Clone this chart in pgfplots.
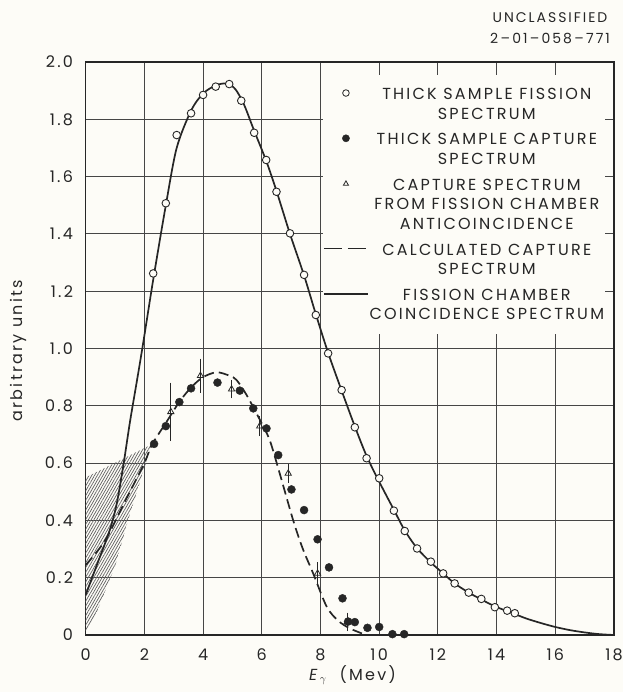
\documentclass[border=0pt]{standalone}
\usepackage{fontspec}
\setmainfont{Poppins}[LetterSpace=14]
\usepackage{pgfplots}
\pgfplotsset{compat=1.18}
\usetikzlibrary{patterns.meta,backgrounds}
\definecolor{ink}{RGB}{38,38,38}
\definecolor{paper}{RGB}{253,252,247}
\definecolor{gridc}{RGB}{70,70,70}
\pgfplotsset{
  markimg/.style={legend image code/.code={\draw[mark repeat=2,mark phase=2,##1] plot coordinates {(0bp,#1) (24bp,#1) (48bp,#1)};}},
  lineimg/.style={legend image code/.code={\draw[##1] (2bp,#1) -- (46bp,#1);}},
}
\newcommand{\lent}[1]{\parbox[b]{236bp}{\centering #1}}
\begin{document}
\begin{tikzpicture}
\begin{axis}[
  name=ax,
  scale only axis, width=528.3bp, height=573bp,
  xmin=0, xmax=18, ymin=0, ymax=2,
  xtick={0,2,4,6,8,10,12,14,16,18},
  xticklabels={0,2,4,6,8,10,12,14,16,18},
  ytick={0,0.2,0.4,0.6,0.8,1.0,1.2,1.4,1.6,1.8,2.0},
  yticklabels={0,0.2,0.4,0.6,0.8,1.0,1.2,1.4,1.6,1.8,2.0},
  grid=major,
  major grid style={gridc, line width=1bp},
  axis line style={ink, line width=1.2bp},
  major tick length=0pt,
  tick label style={font=\fontsize{16bp}{19bp}\selectfont, text=ink},
  xticklabel style={anchor=base, yshift=-26bp},
  yticklabel style={anchor=east, inner sep=0pt, xshift=-12.5bp},
  xlabel={\textit{E}$_{\gamma}$\ \ (Mev)},
  xlabel style={at={(axis description cs:0.505,-0.07)}, anchor=center, font=\fontsize{16bp}{19bp}\selectfont, text=ink},
  ylabel={arbitrary units},
  ylabel style={at={(axis description cs:-0.127,0.496)}, anchor=center, font=\fontsize{16bp}{19bp}\selectfont, text=ink},
  legend style={at={(rel axis cs:0.449,0.977)}, anchor=north west, draw=none, fill=paper,
    inner xsep=0pt, inner ysep=13bp, row sep=13bp, column sep=0bp,
    font=\fontsize{16bp}{19.5bp}\selectfont, text=ink, nodes={inner sep=0pt}},
  legend cell align=left,
]
% hatched uncertainty region
\addplot[draw=none, forget plot, pattern={Lines[angle=60,distance=2.4bp,line width=0.7bp]}, pattern color=gray!75!black]
  coordinates {(0,0.01) (0.3,0.06) (1.0,0.24) (1.5,0.42) (2.25,0.665) (0,0.55)} -- cycle;
% calculated capture spectrum (dashed)
\addplot[forget plot, ink, line width=1.7bp, dash pattern=on 10bp off 5bp, smooth, tension=0.5]
  coordinates {(0,0.244) (0.66,0.33) (1.39,0.477) (2.0,0.60) (2.25,0.663) (2.73,0.74) (3.2,0.815)
  (3.6,0.865) (4.0,0.90) (4.46,0.917) (4.9,0.905) (5.14,0.89) (5.48,0.838) (5.94,0.75) (6.27,0.68)
  (6.61,0.564) (7.07,0.40) (7.4,0.30) (7.75,0.215) (8.21,0.099) (8.6,0.05) (9.0,0.023) (9.5,0.002)};
% fission chamber coincidence spectrum (solid)
\addplot[forget plot, ink, line width=1.7bp, smooth, tension=0.5]
  coordinates {(0,0.14) (0.4,0.25) (0.8,0.36) (1.05,0.455) (1.28,0.59) (1.51,0.745) (1.75,0.89)
  (1.96,1.02) (2.3,1.24) (2.73,1.50) (3.1,1.70) (3.59,1.83) (4.0,1.89) (4.43,1.918) (4.8,1.925)
  (5.1,1.905) (5.4,1.85) (5.74,1.76) (6.15,1.655) (6.5,1.55) (6.96,1.40) (7.44,1.255) (7.84,1.12)
  (8.26,0.985) (8.72,0.853) (9.17,0.728) (9.57,0.625) (10.0,0.535) (10.5,0.437) (10.87,0.365)
  (11.29,0.303) (11.76,0.253) (12.18,0.215) (12.57,0.18) (13.05,0.148) (13.48,0.124) (13.94,0.10)
  (14.5,0.078) (15,0.058) (15.5,0.042) (16,0.028) (16.5,0.017) (17,0.009) (17.5,0.003) (18,0.0)};
% thick sample capture spectrum (filled circles)
\addplot[forget plot, only marks, mark=*, mark size=4bp, mark options={fill=ink, draw=ink}]
  coordinates {(2.33,0.667) (2.73,0.729) (3.19,0.813) (3.59,0.861) (4.49,0.881) (5.25,0.853)
  (5.71,0.791) (6.16,0.721) (6.56,0.628) (7.01,0.508) (7.44,0.436) (7.90,0.334) (8.29,0.236)
  (8.75,0.128) (8.94,0.047) (9.17,0.045) (9.60,0.025) (10.0,0.028) (10.45,0.003) (10.85,0.003)};
% capture spectrum from fission chamber anticoincidence (triangles with error bars)
\addplot[forget plot, only marks, mark=triangle, mark size=3.6bp,
  mark options={fill=paper, draw=ink, line width=0.8bp},
  error bars/.cd, y dir=both, y explicit,
  error bar style={ink, line width=0.8bp},
  error mark options={ink, mark size=3.5bp, line width=0.8bp}]
  table[x=x, y=y, y error=e] {
  x     y      e
  2.90  0.779  0.090
  3.91  0.905  0.047
  4.97  0.858  0.020
  5.93  0.729  0.023
  6.90  0.564  0.020
  7.90  0.215  0.026
  8.91  0.046  0.020
  };
% thick sample fission spectrum (open circles)
\addplot[forget plot, only marks, mark=*, mark size=3.8bp, mark options={fill=paper, draw=ink, line width=0.9bp}]
  coordinates {(2.30,1.262) (2.73,1.507) (3.10,1.745) (3.59,1.821) (4.00,1.885) (4.43,1.914)
  (4.89,1.923) (5.30,1.865) (5.74,1.753) (6.15,1.658) (6.50,1.547) (6.96,1.402) (7.44,1.257)
  (7.84,1.117) (8.26,0.983) (8.72,0.855) (9.17,0.725) (9.57,0.617) (10.0,0.547) (10.50,0.434)
  (10.87,0.363) (11.29,0.302) (11.76,0.256) (12.18,0.215) (12.57,0.180) (13.05,0.148) (13.48,0.126)
  (13.94,0.097) (14.36,0.085) (14.62,0.076)};
% legend
\addlegendimage{markimg=11.5bp, only marks, mark=*, mark size=3.3bp, mark options={fill=paper, draw=ink, line width=0.8bp}}
\addlegendentry{\lent{THICK SAMPLE FISSION\\SPECTRUM}}
\addlegendimage{markimg=11.5bp, only marks, mark=*, mark size=3.6bp, mark options={fill=ink, draw=ink}}
\addlegendentry{\lent{THICK SAMPLE CAPTURE\\SPECTRUM}}
\addlegendimage{markimg=21bp, only marks, mark=triangle, mark size=3bp, mark options={fill=paper, draw=ink, line width=0.8bp}}
\addlegendentry{\lent{CAPTURE SPECTRUM\\FROM FISSION CHAMBER\\ANTICOINCIDENCE}}
\addlegendimage{lineimg=11.5bp, ink, line width=1.7bp, dash pattern=on 18bp off 6bp}
\addlegendentry{\lent{CALCULATED CAPTURE\\SPECTRUM}}
\addlegendimage{lineimg=11.5bp, ink, line width=1.7bp}
\addlegendentry{\lent{FISSION CHAMBER\\\makebox[236bp][c]{COINCIDENCE SPECTRUM}}}
\coordinate (sw) at (rel axis cs:0,0);
\coordinate (ne) at (rel axis cs:1,1);
\end{axis}
\node[align=center, font=\fontsize{14bp}{21bp}\selectfont, text=ink] at ([shift={(-64bp,34bp)}]ne)
  {UNCLASSIFIED\\2\,–\,01\,–\,058\,–\,771};
\begin{scope}[on background layer]
\fill[paper] ([shift={(-85.7bp,-57bp)}]sw) rectangle ([shift={(9bp,62bp)}]ne);
\end{scope}
\pgfresetboundingbox
\path[use as bounding box] ([shift={(-85.7bp,-57bp)}]sw) rectangle ([shift={(9bp,62bp)}]ne);
\end{tikzpicture}
\end{document}
